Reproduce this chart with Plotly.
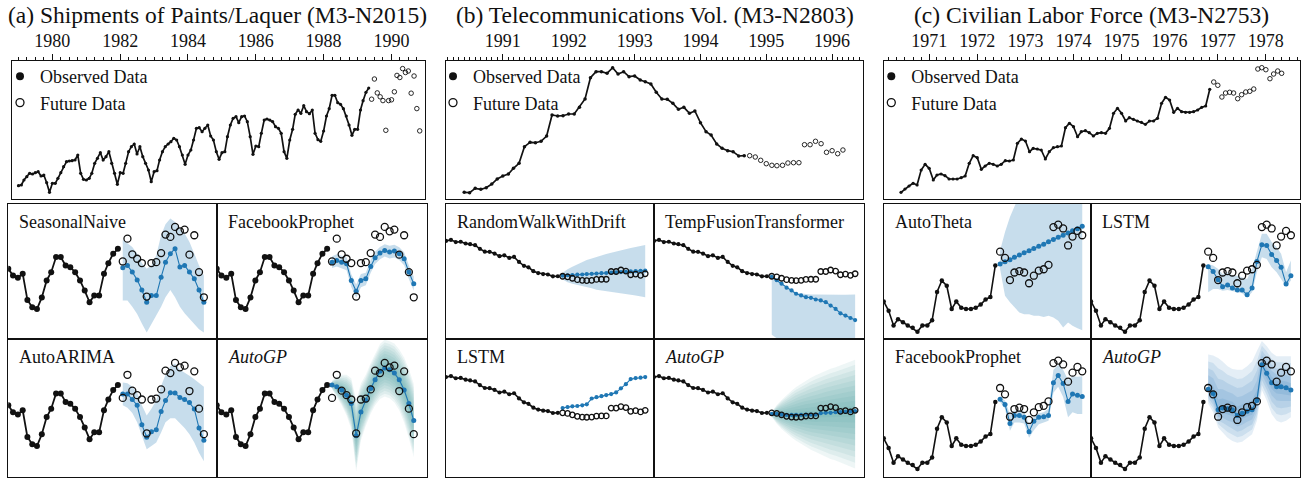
import pandas as pd
import plotly.graph_objects as go

W, H = 1302, 478
SERIF = "Liberation Serif"
INK = "#111111"
BLUE = "#1f77b4"
BAND = "rgba(31,119,180,0.25)"

# ---------------- (a) Shipments of Paints/Laquer (M3-N2015), monthly ----------------
a_start = "1979-01-01"
a_obs = [13.3, 14.0, 19.0, 22.3, 25.7, 25.0, 26.3, 27.3, 23.0, 24.0, 16.3, 6.7,
         15.7, 15.7, 20.7, 26.3, 32.3, 37.3, 38.0, 38.3, 39.0, 44.0, 25.7, 19.7,
         19.0, 20.7, 25.7, 35.7, 40.7, 46.3, 39.0, 42.3, 47.3, 35.7, 25.7, 14.7,
         26.3, 25.7, 35.7, 47.3, 52.3, 55.0, 45.0, 52.3, 42.3, 35.7, 29.0, 17.3,
         27.3, 28.3, 39.0, 47.3, 52.3, 55.0, 57.3, 60.7, 59.0, 52.3, 44.0, 34.7,
         44.0, 49.0, 59.0, 70.7, 71.3, 67.3, 70.7, 74.0, 63.0, 59.0, 47.3, 39.7,
         46.3, 47.3, 62.3, 74.0, 80.7, 82.3, 76.3, 82.3, 83.0, 77.3, 62.3, 44.7,
         53.0, 52.3, 65.7, 79.0, 80.0, 79.0, 77.3, 72.3, 70.7, 65.7, 47.3, 40.7,
         59.0, 69.7, 84.7, 89.0, 85.7, 93.3, 87.3, 85.3, 89.0, 65.7, 59.3, 57.7,
         68.0, 83.0, 90.3, 103.7, 103.7, 96.3, 94.7, 90.3, 83.0, 74.0, 63.7, 69.7,
         69.7, 89.0, 98.3, 106.7, 111.0]
a_fut = [99.8, 120.0, 106.1, 102.2, 98.4, 68.7, 98.4, 99.2, 107.2, 123.6, 121.5, 130.4,
         126.5, 128.0, 105.8, 123.0, 90.4, 68.1]

a_sn = [94.2, 96.3, 90.4, 83.5, 74.6, 63.7, 69.6, 69.6, 85.9, 99.2, 106.7, 111.1, 94.8, 96.3, 90.4, 84.4, 74.6, 63.7]
a_sn_hi = [119.1, 116.1, 112.6, 106.7, 98.4, 93.3, 96.3, 105.2, 123.0, 132.8, 137.8, 134.8, 128.9, 124.5, 117.0, 106.7, 96.3, 87.4]
a_sn_lo = [65.2, 65.2, 59.8, 53.3, 45.0, 37.0, 43.8, 51.8, 59.8, 68.1, 74.6, 68.1, 59.8, 53.9, 48.8, 44.4, 39.9, 37.0]

a_fp = [99.2, 100.7, 99.2, 97.8, 82.9, 73.4, 82.9, 84.4, 95.4, 103.1, 107.2, 109.6, 108.1, 109.0, 106.7, 102.2, 90.4, 80.0]
a_fp_hi = [104.5, 106.2, 104.8, 103.5, 88.5, 79.5, 88.6, 89.9, 101.0, 108.5, 112.6, 115.0, 113.6, 114.7, 112.3, 108.0, 96.5, 86.5]
a_fp_lo = [94.0, 95.3, 93.8, 92.0, 77.2, 67.6, 77.0, 78.8, 89.8, 97.6, 101.7, 104.2, 102.5, 103.4, 101.0, 96.5, 84.3, 73.8]

a_arima = [103.1, 103.1, 98.4, 93.3, 76.4, 65.4, 70.2, 72.0, 88.0, 97.5, 104.3, 104.0, 100.1, 98.4, 95.7, 90.1, 73.4, 62.8]
a_arima_hi = [113.2, 112.6, 109.6, 104.3, 93.3, 84.4, 90.4, 97.8, 110.2, 120.0, 127.4, 129.8, 124.5, 122.1, 119.1, 116.1, 112.6, 109.6]
a_arima_lo = [93.3, 91.2, 86.5, 78.5, 66.6, 54.8, 57.7, 60.7, 69.6, 78.5, 82.0, 82.0, 77.6, 73.4, 68.1, 60.7, 51.8, 44.4]

a_gp = [111.1, 109.6, 106.7, 102.2, 94.8, 66.6, 87.4, 97.8, 108.1, 115.6, 123.0, 125.9, 124.5, 121.5, 115.6, 106.7, 94.8, 80.0]
a_gp_hi = [114.7, 118.5, 120.0, 120.0, 117.0, 97.8, 112.3, 120.0, 130.4, 137.8, 147.0, 150.8, 149.4, 147.3, 142.2, 135.1, 125.0, 112.0]
a_gp_lo = [107.5, 100.7, 93.3, 84.4, 72.6, 35.5, 62.5, 75.5, 85.9, 93.3, 98.9, 101.0, 99.5, 95.7, 88.9, 78.2, 64.6, 47.9]

# ---------------- (b) Telecommunications Vol. (M3-N2803), monthly ----------------
b_start = "1990-06-01"
b_obs = [6.7, 6.3, 10.7, 9.7, 11.3, 15.0, 20.0, 23.0, 25.0, 30.7,
         35.7, 52.3, 56.7, 56.3, 57.7, 63.0, 84.0, 83.0, 83.3, 85.0,
         85.0, 91.7, 100.0, 121.3, 127.3, 127.3, 125.7, 131.3, 125.0, 127.3,
         122.3, 123.0, 119.0, 117.3, 115.0, 106.7, 100.0, 99.7, 95.7, 89.7,
         91.7, 85.7, 88.0, 76.3, 67.3, 64.0, 55.0, 50.7, 48.3, 47.3,
         43.0, 43.3]
b_fut = [43.3, 42.0, 38.7, 35.3, 33.7, 33.3, 33.7, 36.0, 36.3, 36.3, 54.3, 54.3,
         57.7, 55.3, 46.7, 48.3, 45.3, 49.0]

b_rw = [44.5, 45.6, 46.2, 47.0, 47.3, 48.2, 48.8, 49.4, 50.3, 50.8, 51.6, 52.3, 53.0, 53.5, 54.4, 55.0, 55.9, 56.3]
b_rw_hi = [51.1, 59.6, 65.1, 70.5, 76.8, 80.7, 84.5, 88.4, 91.5, 94.7, 97.8, 100.9, 103.2, 105.6, 108.7, 111.0, 113.3, 115.7]
b_rw_lo = [35.5, 29.3, 26.2, 22.3, 20.0, 17.7, 15.3, 12.2, 10.6, 9.1, 6.7, 5.2, 3.6, 2.1, 0.5, -1.0, -2.6, -5.0]

b_tft = [41.7, 34.0, 26.2, 16.8, 10.6, 2.8, -1.1, -5.0, -6.5, -10.4, -12.7, -16.6, -24.4, -32.2, -42.3, -47.7, -53.2, -57.9]
b_tft_hi = [42.5, 35.0, 27.0, 17.5, 11.0, 5.9, 3.6, 2.1, 1.3, 0.9, 0.5, 0.5, 0.5, 0.5, 0.5, 0.5, 1.3, 1.3]
b_tft_lo = [-92.0, -100.0, -110.0, -118.0, -125.0, -130.0, -135.0, -140.0, -145.0, -150.0, -155.0, -160.0, -162.0, -165.0, -168.0, -170.0, -172.0, -175.0]

b_lstm = [54.2, 56.5, 58.1, 58.9, 60.4, 62.8, 76.0, 79.1, 81.4, 83.8, 86.1, 90.0, 99.3, 108.7, 120.3, 122.7, 123.5, 125.0]

b_gp = [41.0, 41.0, 39.4, 38.6, 38.6, 38.6, 38.6, 39.4, 39.4, 39.4, 42.5, 43.3, 43.3, 44.9, 44.9, 45.6, 46.4, 47.2]
b_gp_hi = [45.6, 61.2, 72.9, 84.5, 93.9, 102.4, 110.2, 117.2, 123.5, 128.9, 134.3, 139.0, 143.7, 147.6, 151.5, 155.4, 159.3, 164.7]
b_gp_lo = [34.0, 18.4, 6.7, -3.4, -12.7, -20.5, -28.3, -34.5, -40.7, -46.2, -51.6, -57.1, -61.8, -65.6, -70.3, -74.2, -78.9, -83.5]

# ---------------- (c) Civilian Labor Force (M3-N2753), monthly ----------------
c_start = "1970-06-01"
c_obs = [6.7, 10.0, 13.0, 15.7, 14.0, 29.0, 34.7, 30.7, 19.0, 24.0, 25.0, 23.3,
         20.0, 20.0, 20.0, 21.3, 23.0, 35.7, 43.3, 41.3, 29.7, 33.0, 35.7, 34.7,
         33.0, 34.7, 38.3, 38.0, 39.0, 55.7, 60.0, 58.0, 47.3, 50.7, 50.0, 49.0,
         40.0, 47.3, 51.3, 52.3, 53.0, 71.3, 75.7, 72.3, 62.3, 67.3, 68.3, 66.3,
         63.0, 65.7, 66.3, 65.7, 70.7, 85.7, 90.7, 85.7, 78.0, 81.3, 79.7, 78.0,
         76.7, 74.7, 78.0, 78.0, 80.7, 95.7, 101.7, 99.0, 86.7, 90.7, 87.3, 86.7,
         86.7, 87.3, 89.0, 91.7, 93.0, 109.7]
c_fut = [117.0, 113.7, 102.0, 106.0, 106.7, 106.0, 100.3, 104.3, 107.0, 107.7, 110.0, 130.0,
         131.3, 129.3, 120.3, 125.0, 128.0, 125.7]

c_theta = [110.5, 111.7, 112.8, 114.0, 115.2, 116.4, 117.5, 118.7, 119.9, 121.0, 122.2, 123.4, 124.6, 125.7, 126.9, 128.1, 129.2, 130.4]
c_theta_hi = [117.6, 127.4, 135.4, 141.6, 146.9, 151.3, 154.9, 158.4, 161.1, 163.7, 166.4, 169.0, 170.8, 173.5, 175.3, 177.0, 178.8, 180.5]
c_theta_lo = [107.9, 93.7, 90.2, 87.5, 84.8, 83.9, 83.9, 83.1, 83.1, 82.5, 83.1, 82.2, 80.4, 76.9, 79.5, 77.8, 76.5, 75.5]

c_lstm = [109.1, 106.5, 102.2, 98.5, 99.4, 97.8, 96.7, 96.7, 94.2, 97.8, 111.8, 120.7, 120.3, 115.5, 112.3, 108.8, 99.9, 104.3]
c_lstm_hi = [110.5, 109.7, 107.9, 105.2, 106.1, 104.3, 104.3, 103.4, 102.6, 107.9, 117.6, 126.5, 126.5, 122.1, 119.4, 115.9, 106.1, 112.3]
c_lstm_lo = [95.5, 97.3, 97.3, 96.4, 96.7, 96.0, 95.5, 95.0, 92.8, 95.5, 106.1, 114.1, 113.2, 108.8, 106.1, 102.6, 98.5, 101.7]

c_fp = [111.1, 108.4, 98.5, 102.6, 102.6, 101.7, 94.2, 99.6, 101.7, 102.0, 102.6, 119.8, 123.5, 119.4, 110.0, 113.8, 113.2, 112.6]
c_fp_hi = [112.3, 110.5, 103.4, 105.2, 105.2, 104.9, 98.1, 102.0, 103.8, 104.3, 106.1, 126.5, 129.2, 126.5, 121.2, 123.2, 122.9, 123.2]
c_fp_lo = [109.7, 106.1, 94.6, 99.0, 99.0, 98.5, 91.0, 94.9, 98.1, 99.0, 99.9, 114.5, 117.7, 112.3, 101.7, 104.3, 103.4, 103.4]

c_gp = [116.4, 114.1, 105.6, 106.6, 106.1, 105.6, 102.6, 103.8, 104.9, 105.6, 110.5, 129.2, 124.7, 119.8, 117.6, 117.6, 117.1, 115.9]
c_gp_hi = [134.5, 134.0, 132.7, 130.9, 128.3, 126.9, 126.5, 126.5, 128.3, 130.9, 136.3, 141.6, 139.0, 135.4, 133.6, 133.6, 133.6, 133.6]
c_gp_lo = [108.8, 104.3, 96.4, 93.7, 91.0, 89.3, 88.4, 88.9, 91.0, 92.8, 99.9, 115.9, 110.5, 103.4, 99.9, 99.0, 99.9, 101.7]

titles = ["(a) Shipments of Paints/Laquer (M3-N2015)",
          "(b) Telecommunications Vol. (M3-N2803)",
          "(c) Civilian Labor Force (M3-N2753)"]


def dates(start, n):
    return pd.date_range(start, periods=n, freq="MS")


fig = go.Figure()
layout = {}
annotations = []
counter = [0]


def add_axes(x0, x1, y0, y1, xr, yr, ticks=None):
    counter[0] += 1
    s = "" if counter[0] == 1 else str(counter[0])
    xa = dict(domain=[x0 / W, x1 / W], range=xr, type="date", anchor="y" + s,
              showline=True, mirror=True, linecolor=INK, linewidth=1.3,
              showgrid=False, zeroline=False, fixedrange=True)
    if ticks:
        xa.update(side="top", ticks="outside", ticklen=6, tickwidth=1, tickcolor=INK,
                  dtick=ticks[0], tick0=ticks[1], tickformat="%Y",
                  tickfont=dict(family=SERIF, size=18, color=INK),
                  minor=dict(dtick=ticks[2], ticks="outside", ticklen=3,
                             tickwidth=1, tickcolor=INK, showgrid=False))
    else:
        xa.update(showticklabels=False, ticks="")
    ya = dict(domain=[1 - y1 / H, 1 - y0 / H], range=yr, anchor="x" + s,
              showline=True, mirror=True, linecolor=INK, linewidth=1.3,
              showgrid=False, zeroline=False, showticklabels=False, ticks="",
              fixedrange=True)
    layout["xaxis" + s] = xa
    layout["yaxis" + s] = ya
    return "x" + s, "y" + s


def top_panel(ax, od, ov, fd, fv, dot, circ, legend):
    xa, ya = ax
    fig.add_trace(go.Scatter(x=od, y=ov, xaxis=xa, yaxis=ya, mode="lines+markers",
                             line=dict(color=INK, width=1.7),
                             marker=dict(color=INK, size=dot),
                             showlegend=False, hoverinfo="skip"))
    fig.add_trace(go.Scatter(x=fd, y=fv, xaxis=xa, yaxis=ya, mode="markers",
                             marker=dict(symbol="circle-open", color=INK, size=circ,
                                         line=dict(color=INK, width=0.9)),
                             showlegend=False, hoverinfo="skip"))
    fig.add_trace(go.Scatter(x=[None], y=[None], xaxis=xa, yaxis=ya, mode="markers",
                             marker=dict(color=INK, size=8), name="Observed Data",
                             legend=legend, showlegend=True))
    fig.add_trace(go.Scatter(x=[None], y=[None], xaxis=xa, yaxis=ya, mode="markers",
                             marker=dict(symbol="circle-open", color=INK, size=8,
                                         line=dict(color=INK, width=1.3)),
                             name="Future Data", legend=legend, showlegend=True))


def band(xa, ya, fd, lo, hi, color):
    fig.add_trace(go.Scatter(x=list(fd) + list(fd[::-1]), y=list(hi) + list(lo[::-1]),
                             xaxis=xa, yaxis=ya, mode="lines", fill="toself",
                             fillcolor=color, line=dict(width=0), showlegend=False,
                             hoverinfo="skip"))


def bottom_panel(ax, od, ov, fd, fv, fc, lo, hi, label, sz, grad=None):
    xa, ya = ax
    if lo is not None:
        if grad is None:
            band(xa, ya, fd, lo, hi, BAND)
        else:
            color, fracs = grad
            for frac in fracs:
                h2 = [f + frac * (h - f) for f, h in zip(fc, hi)]
                l2 = [f + frac * (l - f) for f, l in zip(fc, lo)]
                band(xa, ya, fd, l2, h2, color)
    fig.add_trace(go.Scatter(x=od, y=ov, xaxis=xa, yaxis=ya, mode="lines+markers",
                             line=dict(color=INK, width=sz[0]),
                             marker=dict(color=INK, size=sz[1]),
                             showlegend=False, hoverinfo="skip"))
    fig.add_trace(go.Scatter(x=fd, y=fc, xaxis=xa, yaxis=ya, mode="lines+markers",
                             line=dict(color=BLUE, width=1.1),
                             marker=dict(color=BLUE, size=sz[2]),
                             showlegend=False, hoverinfo="skip"))
    fig.add_trace(go.Scatter(x=fd, y=fv, xaxis=xa, yaxis=ya, mode="markers",
                             marker=dict(symbol="circle-open", color=INK, size=sz[3],
                                         line=dict(color=INK, width=1.3)),
                             showlegend=False, hoverinfo="skip"))
    annotations.append(dict(text=label, xref=xa + " domain", yref=ya + " domain",
                            x=0, y=1, xanchor="left", yanchor="middle", xshift=9,
                            yshift=-18, showarrow=False,
                            font=dict(family=SERIF, size=18, color=INK)))


GRAD_FRACS = [1.0, 0.9, 0.8, 0.7, 0.6, 0.5, 0.4, 0.3, 0.2, 0.1]
TEAL = ("rgba(70,150,155,0.09)", GRAD_FRACS)
BLUE_L = ("rgba(31,119,180,0.12)", [1.0, 0.8, 0.6, 0.4, 0.2, 0.05])
ROW = [(203.5, 339.2), (339.2, 476.6)]

panels = [
    dict(obs=a_obs, fut=a_fut, start=a_start, top_x=(11.7, 425), cols=[(8.3, 216.7), (216.7, 426.7)],
         top_r=["1978-10-20", "1990-12-28"], bot_r=["1987-06-01", "1991-01-22"],
         top_y=[0, 138], bot_y=[31.0, 151.1], ticks=("M24", "1980-01-01", "M3"),
         top_sz=(3.2, 4.5), bot_sz=(1.8, 6, 5, 7), cx=217.5, legend="legend",
         models=[("SeasonalNaive", a_sn, a_sn_lo, a_sn_hi, None),
                 ("FacebookProphet", a_fp, a_fp_lo, a_fp_hi, None),
                 ("AutoARIMA", a_arima, a_arima_lo, a_arima_hi, None),
                 ("<i>AutoGP</i>", a_gp, a_gp_lo, a_gp_hi, TEAL)]),
    dict(obs=b_obs, fut=b_fut, start=b_start, top_x=(446, 863.3), cols=[(446, 654), (654, 864)],
         top_r=["1990-02-20", "1996-06-22"], bot_r=["1992-10-01", "1996-04-25"],
         top_y=[0, 138], bot_y=[-102.2, 211.4], ticks=("M12", "1991-01-01", "M1"),
         top_sz=(3.5, 4.5), bot_sz=(1.6, 4.2, 4.2, 5.5), cx=655, legend="legend2",
         models=[("RandomWalkWithDrift", b_rw, b_rw_lo, b_rw_hi, None),
                 ("TempFusionTransformer", b_tft, b_tft_lo, b_tft_hi, None),
                 ("LSTM", b_lstm, None, None, None),
                 ("<i>AutoGP</i>", b_gp, b_gp_lo, b_gp_hi, TEAL)]),
    dict(obs=c_obs, fut=c_fut, start=c_start, top_x=(884.3, 1299.7), cols=[(883.7, 1091), (1091, 1299.7)],
         top_r=["1970-01-25", "1978-09-15"], bot_r=["1974-12-01", "1978-06-25"],
         top_y=[0, 138], bot_y=[70.7, 142.5], ticks=("M12", "1971-01-01", "M2"),
         top_sz=(3.2, 4.5), bot_sz=(1.6, 4.5, 5, 7), cx=1091.7, legend="legend3",
         models=[("AutoTheta", c_theta, c_theta_lo, c_theta_hi, None),
                 ("LSTM", c_lstm, c_lstm_lo, c_lstm_hi, None),
                 ("FacebookProphet", c_fp, c_fp_lo, c_fp_hi, None),
                 ("<i>AutoGP</i>", c_gp, c_gp_lo, c_gp_hi, BLUE_L)]),
]

for p, title in zip(panels, titles):
    od = dates(p["start"], len(p["obs"]))
    fd = dates(od[-1] + pd.offsets.MonthBegin(1), len(p["fut"]))
    ax = add_axes(p["top_x"][0], p["top_x"][1], 61, 199, p["top_r"], p["top_y"], p["ticks"])
    top_panel(ax, od, p["obs"], fd, p["fut"], p["top_sz"][0], p["top_sz"][1], p["legend"])
    layout[p["legend"]] = dict(x=max(p["top_x"][0] - 13, 0) / W, y=1 - 58 / H, xanchor="left",
                               yanchor="top", bgcolor="rgba(0,0,0,0)", borderwidth=0,
                               font=dict(family=SERIF, size=18, color=INK),
                               itemwidth=30, tracegroupgap=0)
    annotations.append(dict(text=title, xref="paper", yref="paper", x=p["cx"] / W,
                            y=1 - 15 / H, xanchor="center", yanchor="middle",
                            showarrow=False, font=dict(family=SERIF, size=23.5, color=INK)))
    for k, (label, fc, lo, hi, grad) in enumerate(p["models"]):
        r, c = divmod(k, 2)
        x0, x1 = p["cols"][c]
        y0, y1 = ROW[r]
        axb = add_axes(x0, x1, y0, y1, p["bot_r"], p["bot_y"])
        bottom_panel(axb, od, p["obs"], fd, p["fut"], fc, lo, hi, label, p["bot_sz"], grad)

fig.update_layout(width=W, height=H, margin=dict(l=0, r=0, t=0, b=0),
                  paper_bgcolor="white", plot_bgcolor="white", showlegend=True,
                  annotations=annotations, **layout)
fig.write_html("out.html", config={"displayModeBar": False},
               post_script="document.body.style.margin='0px';")
